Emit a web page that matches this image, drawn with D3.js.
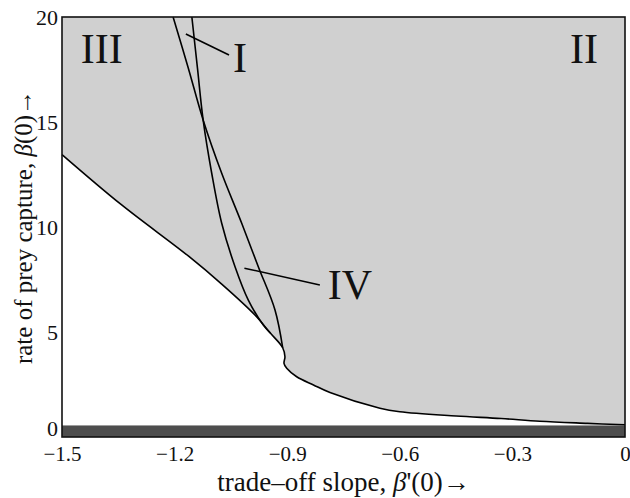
<!DOCTYPE html>
<html><head><meta charset="utf-8">
<script src="https://cdn.jsdelivr.net/npm/d3@7"></script>
<style>body{margin:0;background:#fff}svg{display:block}</style>
</head><body>
<svg id="c" width="630" height="498"></svg>
<script>
const xTicks = [-1.5, -1.2, -0.9, -0.6, -0.3, 0];
const yTicks = [0, 5, 10, 15, 20];
const bandTop = 0.55;
const boundaryX = [-1.5, -1.341, -1.1635, -1.0745, -0.986, -0.945, -0.912, -0.906, -0.9085, -0.9013, -0.8747, -0.83, -0.786, -0.653, -0.6, -0.45, -0.33, -0.227, -0.1, 0];
const boundaryY = [13.45, 11.05, 8.62, 7.28, 5.81, 4.95, 4.25, 3.82, 3.51, 3.27, 2.87, 2.48, 2.12, 1.37, 1.2, 1.0, 0.88, 0.75, 0.65, 0.58];
const curveAX = [-1.204, -1.164, -1.124, -1.0745, -1.0212, -0.977, -0.9325, -0.912];
const curveAY = [20, 17.6, 15.1, 12.56, 10.18, 8.11, 6.05, 4.25];
const curveBX = [-1.154, -1.139, -1.124, -1.1011, -1.0745, -1.039, -1.0036, -0.9637, -0.945];
const curveBY = [20, 17.55, 15.1, 12.56, 10.18, 8.11, 6.52, 5.33, 4.95];
const regionLabels = ["III", "II", "I", "IV"];
const regionPos = [[-1.394, 17.8], [-0.109, 17.8], [-1.026, 17.4], [-0.733, 6.55]];
const leaders = [[[-1.170, 19.19], [-1.055, 18.19]], [[-1.014, 8.04], [-0.813, 7.24]]];

const svg = d3.select("#c");
const L = 62, R = 625, T = 17, B = 437;
const x = d3.scaleLinear().domain([-1.5, 0]).range([L, R]);
const y = d3.scaleLinear().domain([0, 20]).range([B, T]);
const font = "'Liberation Serif', 'DejaVu Serif', serif";

svg.append("rect").attr("x", L).attr("y", T).attr("width", R - L).attr("height", B - T).attr("fill", "#d0d0d0");

const bnd = boundaryX.map((v, i) => [v, boundaryY[i]]);
const lineGen = d3.line().x(d => x(d[0])).y(d => y(d[1])).curve(d3.curveCatmullRom.alpha(0.5));
svg.append("path").attr("d", lineGen(bnd) + "L" + x(0) + "," + y(0) + "L" + x(-1.5) + "," + y(0) + "Z").attr("fill", "#fff");
svg.append("rect").attr("x", L).attr("y", y(bandTop)).attr("width", R - L).attr("height", y(0) - y(bandTop)).attr("fill", "#4d4d4d");

svg.append("path").attr("d", lineGen(bnd)).attr("fill", "none").attr("stroke", "#000").attr("stroke-width", 1.6);
const cA = curveAX.map((v, i) => [v, curveAY[i]]);
const cB = curveBX.map((v, i) => [v, curveBY[i]]);
svg.append("path").attr("d", lineGen(cA)).attr("fill", "none").attr("stroke", "#000").attr("stroke-width", 1.6);
svg.append("path").attr("d", lineGen(cB)).attr("fill", "none").attr("stroke", "#000").attr("stroke-width", 1.6);

leaders.forEach(l => {
  svg.append("line").attr("x1", x(l[0][0])).attr("y1", y(l[0][1])).attr("x2", x(l[1][0])).attr("y2", y(l[1][1]))
    .attr("stroke", "#000").attr("stroke-width", 1.6);
});

regionLabels.forEach((t, i) => {
  svg.append("text").attr("x", x(regionPos[i][0])).attr("y", y(regionPos[i][1]))
    .attr("text-anchor", "middle").attr("font-family", font).attr("font-size", 42).attr("fill", "#111").text(t);
});

svg.append("rect").attr("x", L).attr("y", T).attr("width", R - L).attr("height", B - T)
  .attr("fill", "none").attr("stroke", "#111").attr("stroke-width", 1.6);

const xAxis = svg.append("g").attr("transform", `translate(0,${B})`)
  .call(d3.axisBottom(x).tickValues(xTicks).tickSize(0).tickPadding(5).tickFormat(d => d === 0 ? "0" : d3.format(".1f")(d).replace("-", "−")));
xAxis.select(".domain").remove();
xAxis.selectAll("text").attr("font-family", font).attr("font-size", 21).attr("fill", "#111").attr("dy", "0.9em");

const yAxis = svg.append("g").attr("transform", `translate(${L},0)`)
  .call(d3.axisLeft(y).tickValues(yTicks).tickSize(0).tickPadding(4));
yAxis.select(".domain").remove();
yAxis.selectAll("text").attr("font-family", font).attr("font-size", 22).attr("fill", "#111");
yAxis.selectAll(".tick").filter(d => d === 0).select("text").attr("dy", "-0.05em");

svg.append("text").attr("x", (L + R) / 2).attr("y", 491).attr("text-anchor", "middle")
  .attr("font-family", font).attr("font-size", 27).attr("fill", "#111")
  .html("trade–off slope, <tspan font-style='italic'>β</tspan>'(0)→");
svg.append("text").attr("transform", `translate(32,${(T + B) / 2}) rotate(-90)`).attr("text-anchor", "middle")
  .attr("font-family", font).attr("font-size", 25).attr("fill", "#111")
  .html("rate of prey capture, <tspan font-style='italic'>β</tspan>(0)→");
</script>
</body></html>
